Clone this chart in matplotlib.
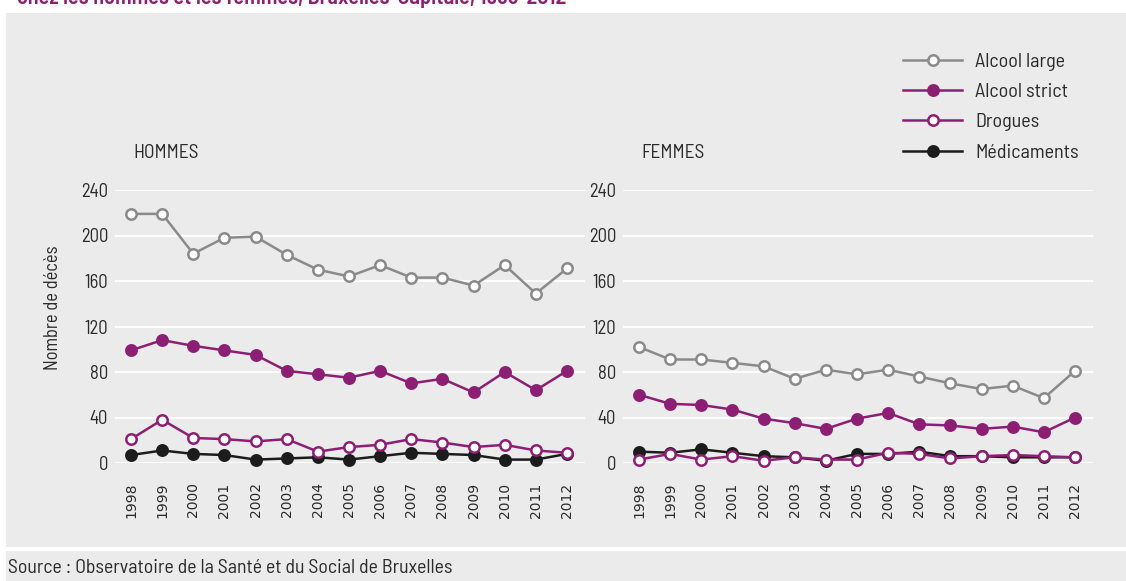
import matplotlib
matplotlib.use("Agg")
import matplotlib.pyplot as plt
from matplotlib.patches import Rectangle
from matplotlib.lines import Line2D

years = list(range(1998, 2013))
year_labels = [str(y) for y in years]

hommes_alcool_large = [219, 219, 184, 198, 199, 183, 170, 164, 174, 163, 163, 156, 174, 149, 171]
hommes_alcool_strict = [99, 108, 103, 99, 95, 81, 78, 75, 81, 70, 74, 62, 80, 64, 81]
hommes_drogues = [21, 38, 22, 21, 19, 21, 10, 14, 16, 21, 18, 14, 16, 11, 9]
hommes_medicaments = [7, 11, 8, 7, 3, 4, 5, 3, 6, 9, 8, 7, 3, 3, 8]

femmes_alcool_large = [102, 91, 91, 88, 85, 74, 82, 78, 82, 76, 70, 65, 68, 57, 81]
femmes_alcool_strict = [60, 52, 51, 47, 39, 35, 30, 39, 44, 34, 33, 30, 32, 27, 40]
femmes_drogues = [3, 8, 3, 6, 2, 5, 3, 3, 9, 8, 4, 6, 7, 6, 5]
femmes_medicaments = [10, 9, 12, 9, 6, 5, 2, 8, 8, 10, 6, 6, 5, 5, 5]

y_ticks = [0, 40, 80, 120, 160, 200, 240]
series_names = ["Alcool large", "Alcool strict", "Drogues", "Médicaments"]
panel_titles = ["HOMMES", "FEMMES"]

BG = "#ebebeb"
GREY = "#8a8a8a"
PURPLE = "#8c1f74"
BLACK = "#1c1c1c"
TXT = "#2a2a2a"
NARROW = ["Barlow Semi Condensed", "Barlow Condensed", "IBM Plex Sans Condensed", "DejaVu Sans"]

styles = [
    dict(color=GREY, mfc="white", mec=GREY),
    dict(color=PURPLE, mfc=PURPLE, mec=PURPLE),
    dict(color=PURPLE, mfc="white", mec=PURPLE),
    dict(color=BLACK, mfc=BLACK, mec=BLACK),
]
draw_order = [3, 2, 1, 0]

W, H = 1126, 581
fig = plt.figure(figsize=(W / 100, H / 100), dpi=100)
fig.patch.set_facecolor("white")

def px(x0, y0, w, h):
    return [x0 / W, (H - y0 - h) / H, w / W, h / H]

fig.patches.append(Rectangle((6 / W, (H - 547) / H), 1 - 6 / W, (547 - 13) / H,
                             transform=fig.transFigure, facecolor=BG, edgecolor="none", zorder=-5))
fig.patches.append(Rectangle((6 / W, 0), 1 - 6 / W, (H - 551) / H,
                             transform=fig.transFigure, facecolor=BG, edgecolor="none", zorder=-5))

fig.text(17 / W, 1 - 4 / H, "chez les hommes et les femmes, Bruxelles-Capitale, 1998-2012",
         color=PURPLE, fontsize=16, family=NARROW, fontweight="semibold", va="baseline", ha="left")

fig.text(8 / W, 1 - 568 / H, "Source : Observatoire de la Santé et du Social de Bruxelles",
         color=TXT, fontsize=14.3, family=NARROW, va="center", ha="left")

fig.text(53 / W, 1 - 308 / H, "Nombre de décès", rotation=90, color=TXT, fontsize=13.3,
         family=NARROW, va="center", ha="center")

panels = [
    (115, [hommes_alcool_large, hommes_alcool_strict, hommes_drogues, hommes_medicaments]),
    (623, [femmes_alcool_large, femmes_alcool_strict, femmes_drogues, femmes_medicaments]),
]

for pi, (x0, data) in enumerate(panels):
    ax = fig.add_axes(px(x0, 190, 470, 273))
    ax.set_facecolor("none")
    step = 436 / 14
    lo = 1998 - 16 / step
    hi = 2012 + (470 - 16 - 436) / step
    ax.set_xlim(lo, hi)
    ax.set_ylim(0, 240)
    for s in ax.spines.values():
        s.set_visible(False)
    ax.set_yticks(y_ticks)
    ax.set_yticklabels([str(v) for v in y_ticks], family=NARROW, fontsize=13.5, color=TXT)
    ax.set_xticks(years)
    ax.set_xticklabels(year_labels, rotation=90, fontsize=10, family="DejaVu Sans", color=TXT,
                       va="top")
    ax.tick_params(axis="both", length=0)
    ax.tick_params(axis="y", pad=5)
    ax.tick_params(axis="x", pad=14)
    ax.grid(axis="y", color="white", linewidth=1.3)
    ax.set_axisbelow(True)
    for i in draw_order:
        st = styles[i]
        ax.plot(years, data[i], color=st["color"], lw=1.8, marker="o", ms=7.5,
                mfc=st["mfc"], mec=st["mec"], mew=1.8, clip_on=False, zorder=3 + (3 - i))
    fig.text((x0 + 18) / W, 1 - 153 / H, panel_titles[pi], color=TXT, fontsize=14,
             family=NARROW, va="center", ha="left")

leg_handles = [Line2D([0], [0], color=styles[i]["color"], lw=1.8, marker="o", ms=7.5,
                      mfc=styles[i]["mfc"], mec=styles[i]["mec"], mew=1.8) for i in range(4)]
leg = fig.legend(leg_handles, series_names, loc="upper left",
                 bbox_to_anchor=(903 / W, 1 - 53 / H), frameon=False,
                 prop=dict(family=NARROW, size=14.5), labelcolor=TXT,
                 handlelength=2.95, handletextpad=0.62, labelspacing=0.6, borderaxespad=0,
                 borderpad=0)

fig.savefig("out.png", dpi=100, facecolor="white")
